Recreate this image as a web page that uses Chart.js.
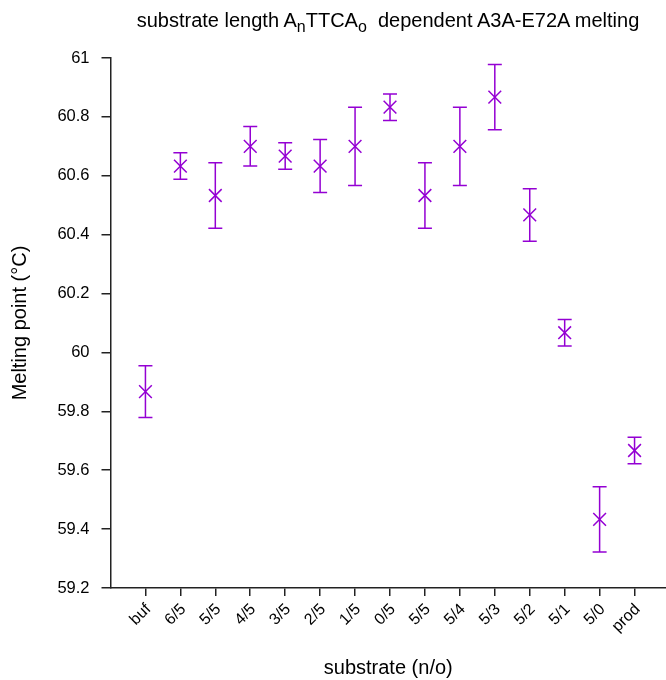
<!DOCTYPE html>
<html>
<head>
<meta charset="utf-8">
<script src="https://cdn.jsdelivr.net/npm/chart.js@4/dist/chart.umd.min.js"></script>
<style>
  html, body { margin: 0; padding: 0; background: #fff; overflow: hidden; }
  #wrap { position: relative; width: 666px; height: 680px; }
  #title {
    position: absolute; left: 110px; width: 556px; top: 8px;
    text-align: center; font: 20px/24px "Liberation Sans", Arial, sans-serif; color: #000;
    white-space: pre;
  }
  #title sub { font-size: 16px; vertical-align: -5px; line-height: 0; }
</style>
</head>
<body>
<div id="wrap">
  <div id="title">substrate length A<sub>n</sub>TTCA<sub>o</sub>  dependent A3A-E72A melting</div>
  <canvas id="meltChart" width="666" height="680"></canvas>
</div>
<script>
// substrate (n/o) categories and melting points
const substrates = ['buf', '6/5', '5/5', '4/5', '3/5', '2/5', '1/5', '0/5', '5/5', '5/4', '5/3', '5/2', '5/1', '5/0', 'prod'];
const meltMean = [59.867, 60.633, 60.533, 60.700, 60.667, 60.633, 60.700, 60.833, 60.533, 60.700, 60.867, 60.467, 60.067, 59.433, 59.667];
const meltErr  = [0.088, 0.045, 0.111, 0.067, 0.045, 0.090, 0.133, 0.045, 0.111, 0.133, 0.111, 0.089, 0.045, 0.111, 0.045];
const yTicks = [59.2, 59.4, 59.6, 59.8, 60, 60.2, 60.4, 60.6, 60.8, 61];

const purple = '#9400d3';
const fontFamily = '"Liberation Sans", Arial, sans-serif';

// error bars drawn through the chart's own scales
const errorBars = {
    id: 'errorBars',
    afterDatasetsDraw(chart) {
        const ctx = chart.ctx;
        const xs = chart.scales.x, ys = chart.scales.y;
        ctx.save();
        ctx.strokeStyle = purple;
        ctx.lineWidth = 1.5;
        meltMean.forEach((v, i) => {
            const px = xs.getPixelForValue(i);
            const top = ys.getPixelForValue(v + meltErr[i]);
            const bot = ys.getPixelForValue(v - meltErr[i]);
            ctx.beginPath();
            ctx.moveTo(px, top); ctx.lineTo(px, bot);
            ctx.moveTo(px - 7, top); ctx.lineTo(px + 7, top);
            ctx.moveTo(px - 7, bot); ctx.lineTo(px + 7, bot);
            ctx.stroke();
        });
        ctx.restore();
    }
};

new Chart(document.getElementById('meltChart'), {
    type: 'scatter',
    data: {
        datasets: [{
            data: meltMean.map((v, i) => ({ x: i, y: v })),
            pointStyle: 'crossRot',
            pointRadius: 9,
            borderColor: purple,
            backgroundColor: purple,
            borderWidth: 1.5
        }]
    },
    options: {
        responsive: false,
        animation: false,
        layout: { autoPadding: false, padding: { top: 58, right: 0, left: 0, bottom: 0 } },
        plugins: {
            legend: { display: false },
            tooltip: { enabled: false }
        },
        scales: {
            x: {
                type: 'linear',
                min: -1,
                max: 14.9,
                afterBuildTicks: s => { s.ticks = substrates.map((_, i) => ({ value: i })); },
                afterFit: s => { s.height = 92; s.paddingLeft = 0; s.paddingRight = 0; },
                grid: { drawOnChartArea: false, tickLength: 8, tickColor: '#222', lineWidth: 1.5 },
                border: { color: '#222', width: 1.5 },
                ticks: {
                    autoSkip: false,
                    maxRotation: 45, minRotation: 45,
                    padding: 4,
                    labelOffset: 3,
                    color: '#000',
                    font: { family: fontFamily, size: 16 },
                    callback: v => substrates[v] ?? ''
                },
                title: {
                    display: true,
                    text: 'substrate (n/o)',
                    color: '#000',
                    font: { family: fontFamily, size: 20 },
                    padding: { top: 0, bottom: 0 }
                }
            },
            y: {
                min: 59.2,
                max: 61,
                afterBuildTicks: s => { s.ticks = yTicks.map(v => ({ value: v })); },
                afterFit: s => { s.width = 110.5; },
                grid: { drawOnChartArea: false, tickLength: 9, tickColor: '#222', lineWidth: 1.5 },
                border: { color: '#222', width: 1.5 },
                ticks: {
                    padding: 12,
                    color: '#000',
                    font: { family: fontFamily, size: 16.5 },
                    callback: v => String(+v.toFixed(1))
                },
                title: {
                    display: true,
                    text: 'Melting point (°C)',
                    color: '#000',
                    font: { family: fontFamily, size: 20 },
                    padding: { top: 8, bottom: 0 }
                }
            }
        }
    },
    plugins: [errorBars]
});
</script>
</body>
</html>
